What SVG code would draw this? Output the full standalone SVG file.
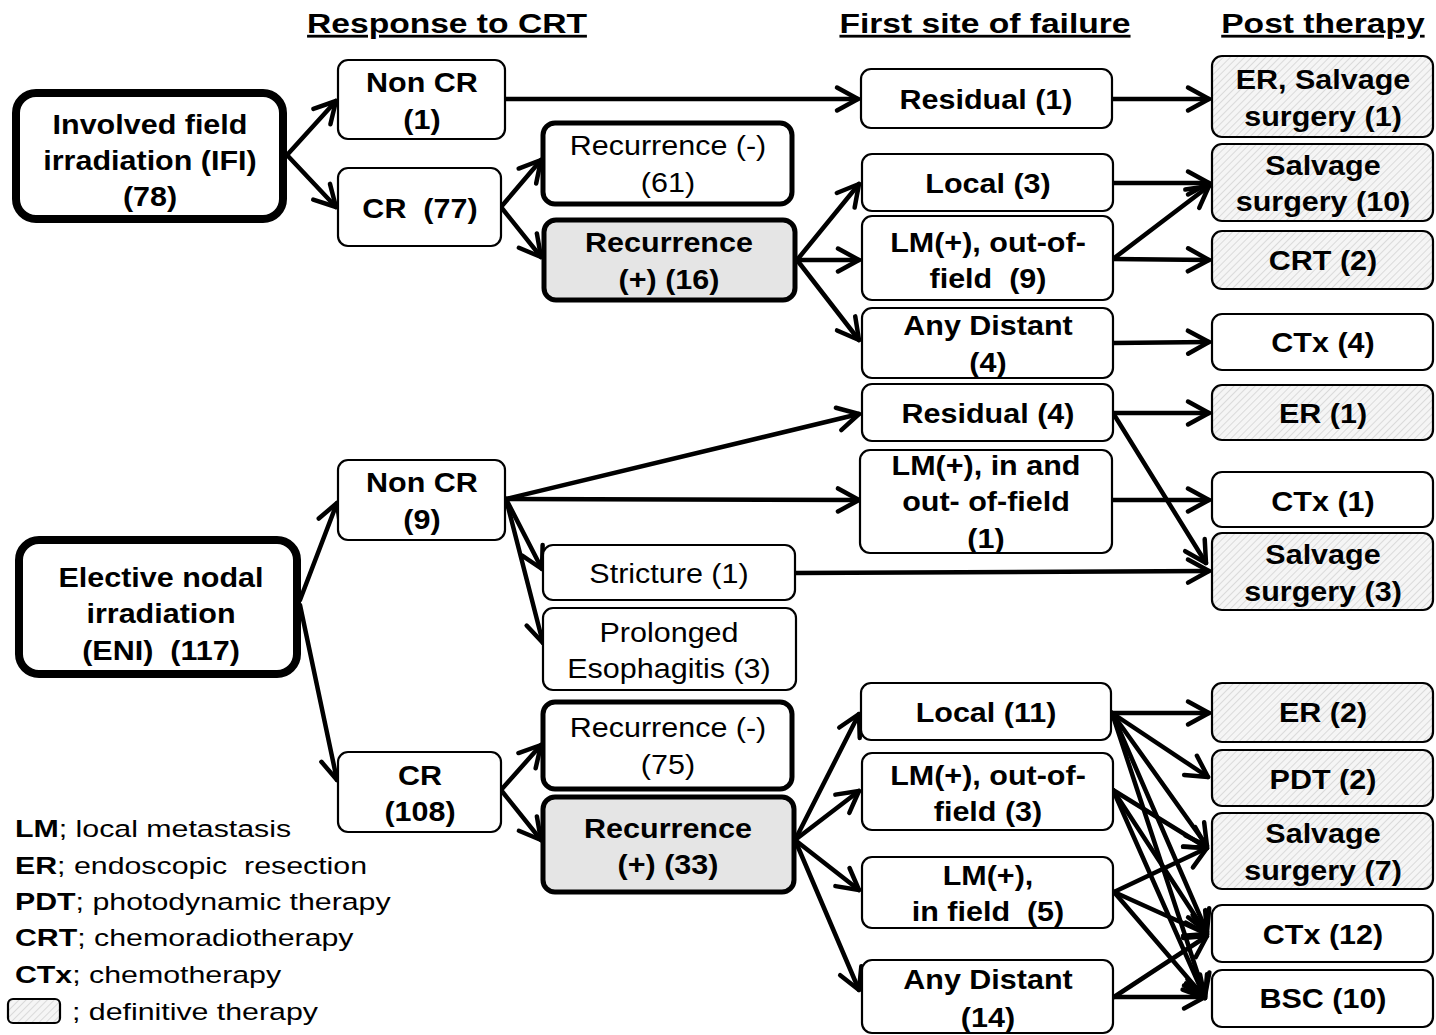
<svg xmlns="http://www.w3.org/2000/svg" width="1436" height="1035" viewBox="0 0 1436 1035">
<style>
.box{fill:#fff;stroke:#000;stroke-width:2.2}
.thick{stroke-width:5}
.heavy{stroke-width:8}
.pos{fill:#e5e5e5}
.def{fill:url(#hatch)}
text{font-family:"Liberation Sans",Arial,Helvetica,sans-serif;fill:#000;transform-box:fill-box}
.b{font-weight:bold;font-size:27px;text-anchor:middle;transform-origin:center;transform:scaleX(1.13)}
.r{font-weight:normal;font-size:27px;text-anchor:middle;transform-origin:center;transform:scaleX(1.13)}
.h{font-weight:bold;font-size:28px;text-anchor:middle;text-decoration:underline;transform-origin:center;transform:scaleX(1.2)}
.leg{font-size:23.5px;transform-origin:0% 50%;transform:scaleX(1.29)}
.leg tspan.k{font-weight:bold}
.conn line{stroke:#000;stroke-width:4.5;stroke-linecap:round;marker-end:url(#arr)}
</style>
<defs>
<pattern id="hatch" patternUnits="userSpaceOnUse" width="5" height="5" patternTransform="rotate(45)">
<rect width="5" height="5" fill="#f5f5f5"/>
<line x1="0" y1="0" x2="0" y2="5" stroke="#d2d2d2" stroke-width="1.5"/>
</pattern>
<marker id="arr" markerUnits="userSpaceOnUse" viewBox="-25 -15 30 30" markerWidth="30" markerHeight="30" refX="0" refY="0" orient="auto">
<path d="M-21,-11.5 L0,0 L-21,11.5" fill="none" stroke="#000" stroke-width="4.5" stroke-linecap="round" stroke-linejoin="round"/>
</marker>
</defs>
<rect width="1436" height="1035" fill="#fff"/>

<g id="headers">
<text class="h" x="447" y="33">Response to CRT</text>
<text class="h" x="985" y="33">First site of failure</text>
<text class="h" x="1323" y="33">Post therapy</text>
</g>

<g class="conn" id="connectors">
<line x1="287" y1="155" x2="336" y2="101"/>
<line x1="287" y1="155" x2="336" y2="207"/>
<line x1="505" y1="99" x2="858" y2="99"/>
<line x1="501" y1="207" x2="541" y2="160"/>
<line x1="501" y1="207" x2="541" y2="257"/>
<line x1="1112" y1="99" x2="1209" y2="99"/>
<line x1="797" y1="260" x2="859" y2="184"/>
<line x1="797" y1="260" x2="859" y2="260"/>
<line x1="797" y1="260" x2="859" y2="340"/>
<line x1="1113" y1="183" x2="1209" y2="183"/>
<line x1="1113" y1="259" x2="1209" y2="186"/>
<line x1="1113" y1="259" x2="1209" y2="260"/>
<line x1="1113" y1="343" x2="1209" y2="342"/>
<line x1="300" y1="600" x2="337" y2="503"/>
<line x1="300" y1="605" x2="337" y2="780"/>
<line x1="506" y1="499" x2="859" y2="414"/>
<line x1="506" y1="499" x2="859" y2="500"/>
<line x1="506" y1="499" x2="542" y2="569"/>
<line x1="506" y1="499" x2="543" y2="643"/>
<line x1="795" y1="573" x2="1209" y2="571"/>
<line x1="1113" y1="413" x2="1209" y2="413"/>
<line x1="1113" y1="413" x2="1206" y2="563"/>
<line x1="1112" y1="500" x2="1209" y2="500"/>
<line x1="501" y1="790" x2="541" y2="745"/>
<line x1="501" y1="790" x2="541" y2="840"/>
<line x1="795" y1="840" x2="859" y2="714"/>
<line x1="795" y1="840" x2="859" y2="791"/>
<line x1="795" y1="840" x2="859" y2="890"/>
<line x1="795" y1="840" x2="859" y2="990"/>
<line x1="1112" y1="713" x2="1209" y2="713"/>
<line x1="1112" y1="713" x2="1208" y2="777"/>
<line x1="1112" y1="713" x2="1207" y2="846"/>
<line x1="1112" y1="713" x2="1207" y2="932"/>
<line x1="1112" y1="713" x2="1205" y2="996"/>
<line x1="1113" y1="790" x2="1207" y2="848"/>
<line x1="1113" y1="790" x2="1207" y2="934"/>
<line x1="1113" y1="790" x2="1205" y2="998"/>
<line x1="1114" y1="892" x2="1207" y2="848"/>
<line x1="1114" y1="892" x2="1207" y2="934"/>
<line x1="1114" y1="892" x2="1205" y2="998"/>
<line x1="1114" y1="997" x2="1207" y2="936"/>
<line x1="1114" y1="997" x2="1205" y2="997"/>
</g>

<g id="ifi"><rect class="box heavy" x="16" y="93" width="267" height="126" rx="20"/>
<text class="b" x="150" y="134">Involved field</text><text class="b" x="150" y="170">irradiation (IFI)</text><text class="b" x="150" y="206">(78)</text></g>
<g id="eni"><rect class="box heavy" x="19" y="540" width="278" height="134" rx="20"/>
<text class="b" x="161" y="587">Elective nodal</text><text class="b" x="161" y="623">irradiation</text><text class="b" x="161" y="660">(ENI)&#160; (117)</text></g>

<g id="noncr1"><rect class="box" x="338" y="60" width="167" height="79" rx="10"/>
<text class="b" x="422" y="92">Non CR</text><text class="b" x="422" y="129">(1)</text></g>
<g id="cr77"><rect class="box" x="338" y="168" width="163" height="78" rx="10"/>
<text class="b" x="420" y="218">CR&#160; (77)</text></g>
<g id="recneg61"><rect class="box thick" x="543" y="123" width="249" height="81" rx="12"/>
<text class="r" x="668" y="155">Recurrence (-)</text><text class="r" x="668" y="192">(61)</text></g>
<g id="recpos16"><rect class="box thick pos" x="544" y="220" width="251" height="80" rx="12"/>
<text class="b" x="669" y="252">Recurrence</text><text class="b" x="669" y="289">(+) (16)</text></g>

<g id="residual1"><rect class="box" x="861" y="69" width="251" height="59" rx="10"/>
<text class="b" x="986" y="109">Residual (1)</text></g>
<g id="local3"><rect class="box" x="862" y="154" width="251" height="57" rx="10"/>
<text class="b" x="988" y="193">Local (3)</text></g>
<g id="lmout9"><rect class="box" x="862" y="216" width="251" height="84" rx="10"/>
<text class="b" x="988" y="252">LM(+), out-of-</text><text class="b" x="988" y="288">field&#160; (9)</text></g>
<g id="distant4"><rect class="box" x="862" y="308" width="251" height="70" rx="10"/>
<text class="b" x="988" y="335">Any Distant</text><text class="b" x="988" y="372">(4)</text></g>
<g id="residual4"><rect class="box" x="862" y="384" width="251" height="57" rx="10"/>
<text class="b" x="988" y="423">Residual (4)</text></g>
<g id="lminout1"><rect class="box" x="860" y="450" width="252" height="103" rx="10"/>
<text class="b" x="986" y="475">LM(+), in and</text><text class="b" x="986" y="511">out- of-field</text><text class="b" x="986" y="548">(1)</text></g>

<g id="noncr9"><rect class="box" x="338" y="460" width="167" height="80" rx="10"/>
<text class="b" x="422" y="492">Non CR</text><text class="b" x="422" y="529">(9)</text></g>
<g id="stricture"><rect class="box" x="543" y="545" width="252" height="55" rx="10"/>
<text class="r" x="669" y="583">Stricture (1)</text></g>
<g id="esophagitis"><rect class="box" x="543" y="608" width="253" height="82" rx="10"/>
<text class="r" x="669" y="642">Prolonged</text><text class="r" x="669" y="678">Esophagitis (3)</text></g>
<g id="cr108"><rect class="box" x="338" y="752" width="163" height="80" rx="10"/>
<text class="b" x="420" y="785">CR</text><text class="b" x="420" y="821">(108)</text></g>
<g id="recneg75"><rect class="box thick" x="543" y="702" width="249" height="87" rx="12"/>
<text class="r" x="668" y="737">Recurrence (-)</text><text class="r" x="668" y="774">(75)</text></g>
<g id="recpos33"><rect class="box thick pos" x="543" y="797" width="251" height="95" rx="12"/>
<text class="b" x="668" y="838">Recurrence</text><text class="b" x="668" y="874">(+) (33)</text></g>

<g id="local11"><rect class="box" x="861" y="683" width="250" height="57" rx="10"/>
<text class="b" x="986" y="722">Local (11)</text></g>
<g id="lmout3"><rect class="box" x="862" y="753" width="251" height="77" rx="10"/>
<text class="b" x="988" y="785">LM(+), out-of-</text><text class="b" x="988" y="821">field (3)</text></g>
<g id="lmin5"><rect class="box" x="862" y="857" width="251" height="71" rx="10"/>
<text class="b" x="988" y="885">LM(+),</text><text class="b" x="988" y="921">in field&#160; (5)</text></g>
<g id="distant14"><rect class="box" x="862" y="960" width="251" height="73" rx="10"/>
<text class="b" x="988" y="989">Any Distant</text><text class="b" x="988" y="1027">(14)</text></g>

<g id="er_salv1"><rect class="box def" x="1212" y="56" width="221" height="81" rx="10"/>
<text class="b" x="1323" y="89">ER, Salvage</text><text class="b" x="1323" y="126">surgery (1)</text></g>
<g id="salv10"><rect class="box def" x="1212" y="144" width="221" height="77" rx="10"/>
<text class="b" x="1323" y="175">Salvage</text><text class="b" x="1323" y="211">surgery (10)</text></g>
<g id="crt2"><rect class="box def" x="1212" y="231" width="221" height="58" rx="10"/>
<text class="b" x="1323" y="270">CRT (2)</text></g>
<g id="ctx4"><rect class="box" x="1212" y="314" width="221" height="56" rx="10"/>
<text class="b" x="1323" y="352">CTx (4)</text></g>
<g id="er1"><rect class="box def" x="1212" y="385" width="221" height="55" rx="10"/>
<text class="b" x="1323" y="423">ER (1)</text></g>
<g id="ctx1"><rect class="box" x="1212" y="472" width="221" height="55" rx="10"/>
<text class="b" x="1323" y="511">CTx (1)</text></g>
<g id="salv3"><rect class="box def" x="1212" y="533" width="221" height="77" rx="10"/>
<text class="b" x="1323" y="564">Salvage</text><text class="b" x="1323" y="601">surgery (3)</text></g>
<g id="er2"><rect class="box def" x="1212" y="683" width="221" height="59" rx="10"/>
<text class="b" x="1323" y="722">ER (2)</text></g>
<g id="pdt2"><rect class="box def" x="1212" y="750" width="221" height="56" rx="10"/>
<text class="b" x="1323" y="789">PDT (2)</text></g>
<g id="salv7"><rect class="box def" x="1212" y="813" width="221" height="76" rx="10"/>
<text class="b" x="1323" y="843">Salvage</text><text class="b" x="1323" y="880">surgery (7)</text></g>
<g id="ctx12"><rect class="box" x="1212" y="905" width="221" height="57" rx="10"/>
<text class="b" x="1323" y="944">CTx (12)</text></g>
<g id="bsc10"><rect class="box" x="1212" y="970" width="221" height="57" rx="10"/>
<text class="b" x="1323" y="1008">BSC (10)</text></g>

<g id="legend">
<text class="leg" x="15" y="837"><tspan class="k">LM</tspan>; local metastasis</text>
<text class="leg" x="15" y="874"><tspan class="k">ER</tspan>; endoscopic&#160; resection</text>
<text class="leg" x="15" y="910"><tspan class="k">PDT</tspan>; photodynamic therapy</text>
<text class="leg" x="15" y="946"><tspan class="k">CRT</tspan>; chemoradiotherapy</text>
<text class="leg" x="15" y="983"><tspan class="k">CTx</tspan>; chemotherapy</text>
<rect class="box def" x="8" y="999" width="52" height="24" rx="5"/>
<text class="leg" x="72" y="1020">; definitive therapy</text>
</g>
</svg>
